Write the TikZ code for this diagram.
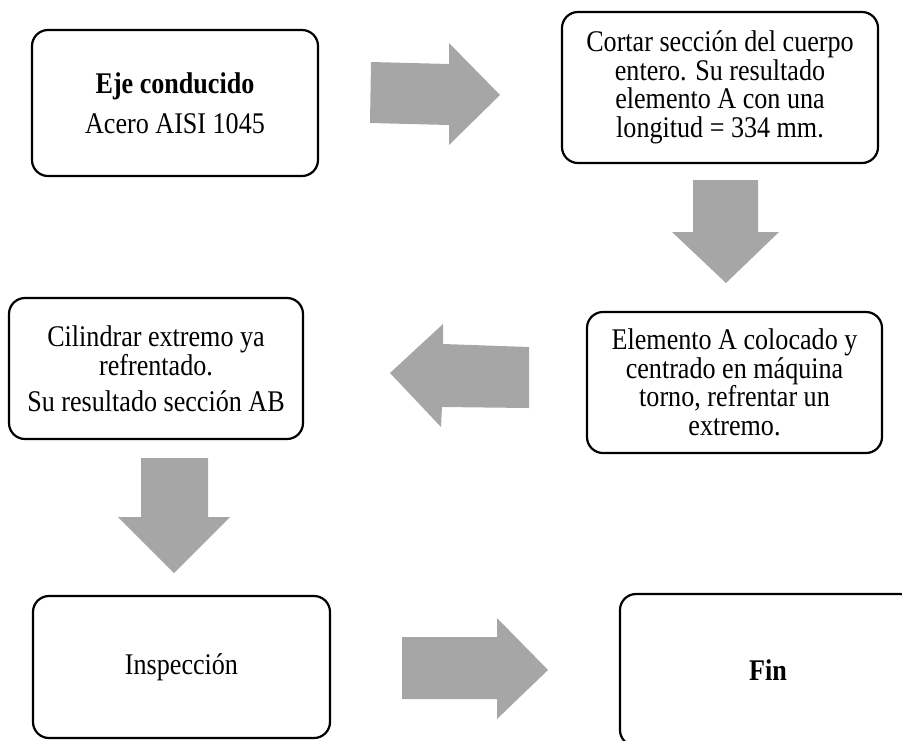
\documentclass[tikz,border=0pt]{standalone}
\usepackage{fontspec}
\setmainfont{Liberation Serif}[FakeStretch=0.87]
\definecolor{flechagris}{HTML}{A6A6A6}
\tikzset{
	caja/.style={draw, line width=2.2pt, rounded corners=16pt, inner sep=0pt,
		align=center, font=\fontsize{30}{28.5}\selectfont},
	flecha/.style={fill=flechagris}
}

\begin{document}
\begin{tikzpicture}[x=1pt, y=-1pt]
			%%%%% START %%%%%
			\useasboundingbox (0, 0) rectangle (902, 740);
			\clip (0, 0) rectangle (902, 740);
			
			\node[caja, minimum width=286, minimum height=146] (eje) at (175, 103) {\textbf{Eje conducido}\\[11.5pt]Acero AISI 1045};
			\node[caja, minimum width=316, minimum height=151] (cortar) at (720, 87.5) {Cortar sección del cuerpo\\entero. Su resultado\\elemento A con una\\longitud = 334 mm.};
			\node[caja, minimum width=295, minimum height=141] (torno) at (734.5, 382.5) {Elemento A colocado y\\centrado en máquina\\torno, refrentar un\\extremo.};
			\node[caja, minimum width=294, minimum height=141] (cilindrar) at (156, 368.5) {Cilindrar extremo ya\\refrentado.\\[7.5pt]Su resultado sección AB};
			\node[caja, minimum width=297, minimum height=142] (inspeccion) at (181.5, 667) {Inspección};
			\node[caja, minimum width=296, minimum height=152] (fin) at (768, 670) {\textbf{Fin}};
			
			% flechas de bloque
			\fill[flecha] (371, 62) -- (449, 64) -- (449, 43) -- (500, 95) -- (449, 145) -- (449, 125) -- (370, 123) -- cycle;
			\fill[flecha] (693, 180) -- (758, 180) -- (758, 232) -- (779, 232) -- (726, 283) -- (672, 232) -- (693, 232) -- cycle;
			\fill[flecha] (529, 347) -- (443, 344) -- (443, 324) -- (390, 373) -- (441, 427) -- (442, 407) -- (529, 408) -- cycle;
			\fill[flecha] (141, 458) -- (208, 458) -- (208, 517) -- (230, 517) -- (174, 573) -- (118, 517) -- (141, 517) -- cycle;
			\fill[flecha] (402, 637) -- (497, 637) -- (497, 618) -- (548, 670) -- (497, 719) -- (497, 699) -- (402, 699) -- cycle;
			
			%%%%% END %%%%%
\end{tikzpicture}
\end{document}
